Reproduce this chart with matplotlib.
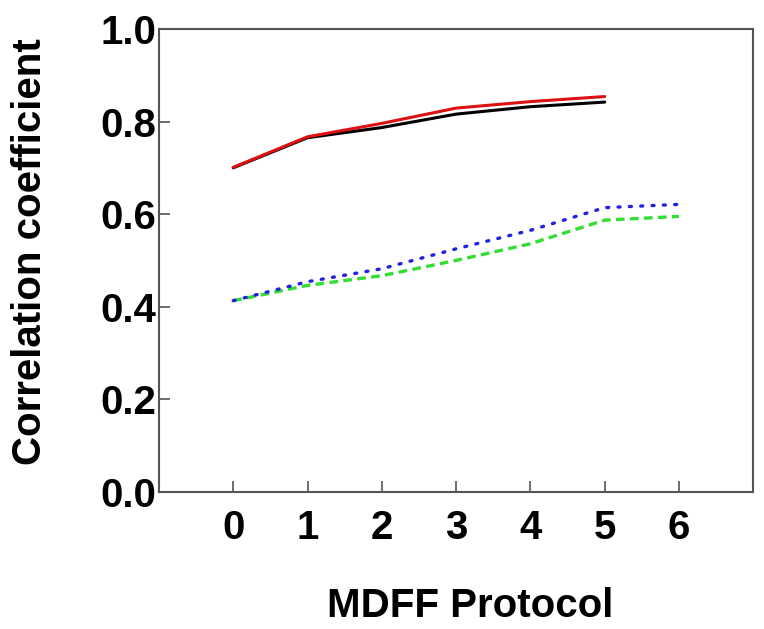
import matplotlib.pyplot as plt

plt.rcParams['font.family'] = ['Liberation Sans', 'DejaVu Sans']
plt.rcParams['font.weight'] = 'bold'

# MDFF protocol steps
protocol = [0, 1, 2, 3, 4, 5, 6]

# correlation coefficients
cc_black = [0.700, 0.765, 0.787, 0.816, 0.832, 0.842]
cc_red = [0.701, 0.767, 0.796, 0.829, 0.843, 0.854]
cc_blue = [0.413, 0.454, 0.482, 0.525, 0.565, 0.614, 0.621]
cc_green = [0.413, 0.446, 0.467, 0.500, 0.536, 0.587, 0.595]

fig = plt.figure(figsize=(7.64, 6.29), dpi=100)
ax = fig.add_axes([0.208, 0.218, 0.778, 0.736])

ax.plot(protocol[:6], cc_black, color='black', lw=2.2, solid_capstyle='round')
ax.plot(protocol[:6], cc_red, color='#dd1111', lw=2.2, solid_capstyle='round')
ax.plot(protocol, cc_green, color='#33dd33', lw=2.4, linestyle=(0, (2.6, 1.6)))
ax.plot(protocol, cc_blue, color='#2222dd', lw=2.4, linestyle=(0, (0.6, 2.8)),
        dash_capstyle='round')

ax.set_xlim(-1, 7)
ax.set_ylim(0, 1.0)
ax.set_xticks(protocol)
ax.set_yticks([0.0, 0.2, 0.4, 0.6, 0.8, 1.0])
ax.set_yticklabels(['0.0', '0.2', '0.4', '0.6', '0.8', '1.0'])

ax.tick_params(axis='both', direction='in', length=8, width=1.2, color='#555555',
               labelsize=29)
ax.tick_params(axis='x', pad=12)
ax.tick_params(axis='y', pad=2)

for s in ax.spines.values():
    s.set_color('#555555')
    s.set_linewidth(1.5)

ax.set_xlabel('MDFF Protocol', fontsize=29, fontweight='bold', labelpad=29)
ax.xaxis.label.set_x(0.523)
ax.set_ylabel('Correlation coefficient', fontsize=29, fontweight='bold', labelpad=37)
ax.yaxis.label.set_y(0.52)

fig.savefig('out.png', dpi=100)
